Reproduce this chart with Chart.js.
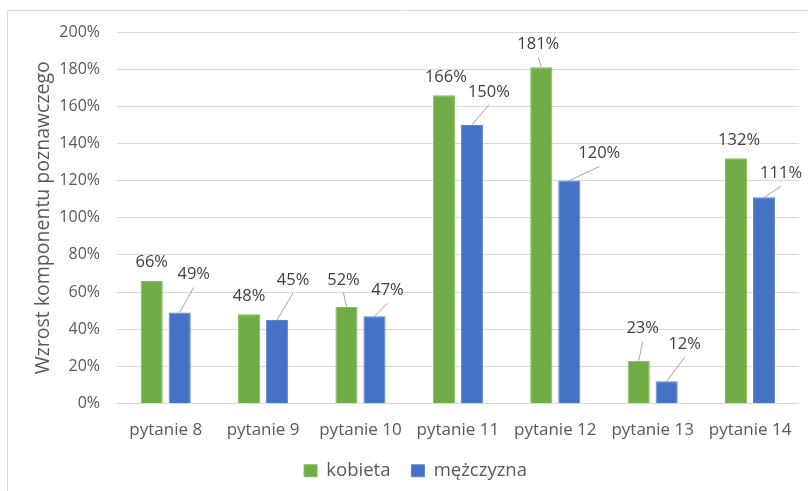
<!DOCTYPE html>
<html>
<head>
<meta charset="utf-8">
<script src="https://cdn.jsdelivr.net/npm/chart.js@4.4.1/dist/chart.umd.min.js"></script>
<style>
    html, body { margin: 0; padding: 0; background: #ffffff; }
    #wrap { width: 808px; height: 491px; position: relative; }
</style>
</head>
<body>
<div id="wrap"><canvas id="bar-chart" width="808" height="491"></canvas></div>
<script>
const categories = ['pytanie 8', 'pytanie 9', 'pytanie 10', 'pytanie 11', 'pytanie 12', 'pytanie 13', 'pytanie 14'];
const seriesNames = ['kobieta', 'mężczyzna'];
const kobieta = [66, 48, 52, 166, 181, 23, 132];
const mezczyzna = [49, 45, 47, 150, 120, 12, 111];
const yTicks = [0, 20, 40, 60, 80, 100, 120, 140, 160, 180, 200];

// hand-placed label positions relative to the top of each bar: [dx, dy, leader line]
const labelOffsets = [
    [[0, -19, false], [0, -18, false], [-3, -27, true], [2, -18, false], [-3, -23, true], [4, -32, true], [3, -18, false]],
    [[14, -38, true], [16, -40, true], [13, -26, true], [17, -33, true], [30, -27, true], [18, -37, true], [17, -24, true]]
];

const FONT = "'Open Sans', 'Noto Sans', sans-serif";

const frame = {
    id: 'frame',
    beforeDraw(chart) {
        const ctx = chart.ctx;
        ctx.save();
        ctx.fillStyle = '#ffffff';
        ctx.fillRect(0, 0, chart.width, chart.height);
        ctx.strokeStyle = '#d9d9d9';
        ctx.lineWidth = 1;
        ctx.beginPath();
        ctx.moveTo(7.5, chart.height);
        ctx.lineTo(7.5, 10.5);
        ctx.lineTo(chart.width, 10.5);
        ctx.stroke();
        ctx.restore();
    }
};

const valueLabels = {
    id: 'valueLabels',
    afterDatasetsDraw(chart) {
        const ctx = chart.ctx;
        ctx.save();
        ctx.font = '16.5px ' + FONT;
        ctx.fillStyle = '#404040';
        ctx.textAlign = 'center';
        ctx.textBaseline = 'middle';
        chart.data.datasets.forEach((ds, di) => {
            chart.getDatasetMeta(di).data.forEach((bar, i) => {
                const [dx, dy, leader] = labelOffsets[di][i];
                const lx = bar.x + dx;
                const ly = bar.y + dy;
                if (leader) {
                    ctx.strokeStyle = '#a6a6a6';
                    ctx.lineWidth = 1;
                    ctx.beginPath();
                    ctx.moveTo(bar.x, bar.y);
                    ctx.lineTo(lx, ly + 13);
                    ctx.stroke();
                }
                ctx.fillText(ds.data[i] + '%', lx, ly);
            });
        });
        ctx.restore();
    }
};

new Chart(document.getElementById('bar-chart').getContext('2d'), {
    type: 'bar',
    data: {
        labels: categories,
        datasets: [
            {
                label: seriesNames[0],
                data: kobieta,
                backgroundColor: '#70ad47',
                borderColor: '#82bb5d',
                borderWidth: 1,
                categoryPercentage: 0.575,
                barPercentage: 0.79
            },
            {
                label: seriesNames[1],
                data: mezczyzna,
                backgroundColor: '#4472c4',
                borderColor: '#5a84cc',
                borderWidth: 1,
                categoryPercentage: 0.575,
                barPercentage: 0.79
            }
        ]
    },
    options: {
        responsive: false,
        animation: false,
        layout: { padding: { left: 32, right: 9, top: 32, bottom: 1 } },
        scales: {
            x: {
                grid: { display: false, drawTicks: false },
                border: { display: false },
                afterFit(scale) {
                    scale.height = 37;
                },
                ticks: { color: '#595959', font: { family: FONT, size: 17 }, padding: 16 }
            },
            y: {
                min: 0,
                max: 200,
                afterBuildTicks(scale) {
                    scale.ticks = yTicks.map(v => ({ value: v }));
                },
                afterFit(scale) {
                    scale.width = 85;
                },
                grid: { color: '#d9d9d9', drawTicks: false },
                border: { display: false },
                ticks: {
                    color: '#595959',
                    font: { family: FONT, size: 16 },
                    padding: 17,
                    callback: v => v + '%'
                },
                title: {
                    display: true,
                    text: 'Wzrost komponentu poznawczego',
                    color: '#595959',
                    font: { family: FONT, size: 19.5 },
                    padding: { top: 0, bottom: 0 }
                }
            }
        },
        plugins: {
            legend: {
                position: 'bottom',
                labels: {
                    color: '#595959',
                    font: { family: FONT, size: 18.5 },
                    boxWidth: 13,
                    boxHeight: 12,
                    padding: 21
                }
            },
            tooltip: { enabled: false }
        }
    },
    plugins: [frame, valueLabels]
});
</script>
</body>
</html>
